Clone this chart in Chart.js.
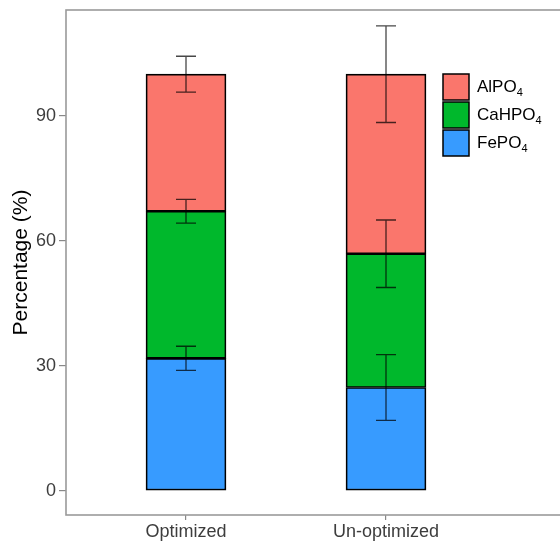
<!DOCTYPE html>
<html lang="en">
<head>
<meta charset="UTF-8">
<title>Phosphate fractions</title>
<script src="https://cdn.jsdelivr.net/npm/chart.js"></script>
<style>
  html, body { margin: 0; padding: 0; background: #fff; overflow: hidden; }
  #wrap { width: 580px; height: 544px; }
</style>
</head>
<body>
<div id="wrap"><canvas id="chart" width="580" height="544"></canvas></div>
<script>
// data
const categories = ['Optimized', 'Un-optimized'];
const seriesNames = ['FePO4', 'CaHPO4', 'AlPO4'];   // last digit drawn as subscript
const seriesColors = ['#379BFF', '#00B82C', '#FA766C'];
const fePO4 = [31.8, 24.8];
const caHPO4 = [35.3, 32.1];
const alPO4 = [32.9, 43.1];
const fePO4Err = [2.9, 7.9];
const caHPO4Err = [2.85, 8.1];
const alPO4Err = [4.3, 11.6];
const yTicks = [0, 30, 60, 90];
const yMin = -5.8, yMax = 115.4;

const seriesValues = [fePO4, caHPO4, alPO4];
const seriesErrors = [fePO4Err, caHPO4Err, alPO4Err];
const FONT = '"Liberation Sans", Arial, sans-serif';

// ggplot-like panel border
const frame = {
    id: 'frame',
    afterDraw(chart) {
        const { ctx, chartArea: a } = chart;
        ctx.save();
        ctx.strokeStyle = '#9a9a9a';
        ctx.lineWidth = 1.6;
        ctx.strokeRect(a.left, a.top, a.right - a.left, a.bottom - a.top);
        ctx.restore();
    }
};

const errorBars = {
    id: 'errorBars',
    afterDatasetsDraw(chart) {
        const { ctx, scales: { x, y } } = chart;
        ctx.save();
        ctx.strokeStyle = 'rgba(0,0,0,0.72)';
        ctx.lineWidth = 1.3;
        categories.forEach((c, j) => {
            let top = 0;
            const px = x.getPixelForValue(j + 1);
            seriesValues.forEach((vals, i) => {
                top += vals[j];
                const hi = y.getPixelForValue(top + seriesErrors[i][j]);
                const lo = y.getPixelForValue(top - seriesErrors[i][j]);
                ctx.beginPath();
                ctx.moveTo(px, hi); ctx.lineTo(px, lo);
                ctx.moveTo(px - 10, hi); ctx.lineTo(px + 10, hi);
                ctx.moveTo(px - 10, lo); ctx.lineTo(px + 10, lo);
                ctx.stroke();
            });
        });
        ctx.restore();
    }
};

const legendBox = {
    id: 'legendBox',
    afterDraw(chart) {
        const ctx = chart.ctx;
        const x0 = 443, y0 = 74, size = 26, step = 28;
        ctx.save();
        ctx.textBaseline = 'middle';
        for (let k = 0; k < seriesNames.length; k++) {
            const i = seriesNames.length - 1 - k;
            const y = y0 + k * step;
            ctx.fillStyle = seriesColors[i];
            ctx.fillRect(x0, y, size, size);
            ctx.strokeStyle = '#000';
            ctx.lineWidth = 1.5;
            ctx.strokeRect(x0, y, size, size);
            const name = seriesNames[i];
            const base = name.slice(0, -1), sub = name.slice(-1);
            ctx.fillStyle = '#000';
            ctx.font = '17px ' + FONT;
            ctx.fillText(base, x0 + 34, y + size / 2);
            const w = ctx.measureText(base).width;
            ctx.font = '11px ' + FONT;
            ctx.fillText(sub, x0 + 34 + w, y + size / 2 + 6);
        }
        ctx.restore();
    }
};

new Chart(document.getElementById('chart'), {
    type: 'bar',
    data: {
        datasets: seriesValues.map((vals, i) => ({
            label: seriesNames[i],
            data: vals.map((v, j) => ({ x: j + 1, y: v })),
            backgroundColor: seriesColors[i],
            borderColor: '#000',
            borderWidth: 1.7,
            borderSkipped: false,
            barThickness: 80
        }))
    },
    options: {
        responsive: false,
        animation: false,
        layout: { padding: { top: 10, right: 10, left: 0, bottom: 0 } },
        plugins: { legend: { display: false }, tooltip: { enabled: false } },
        scales: {
            x: {
                type: 'linear',
                stacked: true,
                offset: false,
                min: 0.4,
                max: 2.92,
                afterBuildTicks: s => { s.ticks = categories.map((c, j) => ({ value: j + 1 })); },
                afterFit: s => { s.height = 29; },
                border: { display: false },
                grid: { offset: false, drawOnChartArea: false, tickLength: 5, color: '#888', lineWidth: 1.2 },
                ticks: {
                    padding: 1,
                    color: '#3d3d3d',
                    font: { family: FONT, size: 18 },
                    callback: v => categories[v - 1]
                }
            },
            y: {
                stacked: true,
                min: yMin,
                max: yMax,
                afterBuildTicks: s => { s.ticks = yTicks.map(v => ({ value: v })); },
                afterFit: s => { s.width = 66; s.paddingTop = 0; s.paddingBottom = 0; },
                border: { display: false },
                grid: { drawOnChartArea: false, tickLength: 7, color: '#888', lineWidth: 1.2 },
                ticks: { padding: 3, color: '#3d3d3d', font: { family: FONT, size: 18 } },
                title: {
                    display: true,
                    text: 'Percentage (%)',
                    color: '#000',
                    padding: { top: 9, bottom: 0 },
                    font: { family: FONT, size: 21 }
                }
            }
        }
    },
    plugins: [frame, errorBars, legendBox]
});
</script>
</body>
</html>
